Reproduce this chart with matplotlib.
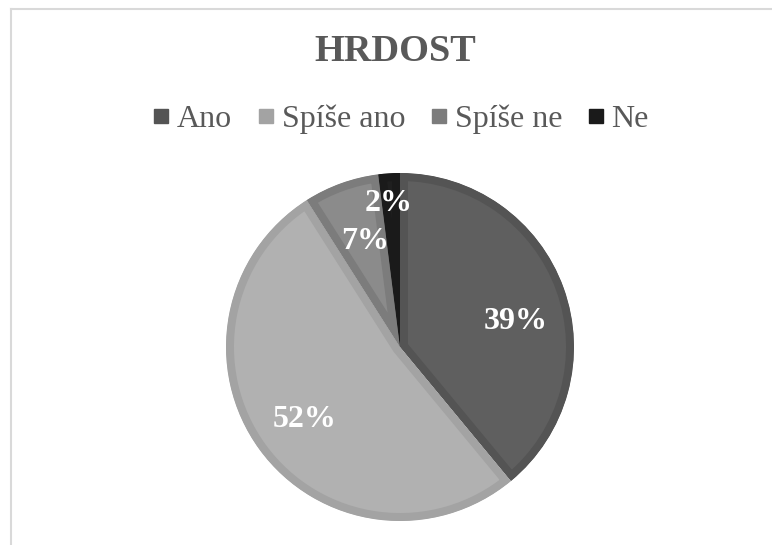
import numpy as np
import matplotlib
matplotlib.use("Agg")
import matplotlib.pyplot as plt
from matplotlib.lines import Line2D
from matplotlib.patches import Wedge

plt.rcParams['font.family'] = ['Liberation Serif', 'DejaVu Serif']

title = "HRDOST"
categories = ["Ano", "Spíše ano", "Spíše ne", "Ne"]
values = [39, 52, 7, 2]

fill_colors = ["#5f5f5f", "#b1b1b1", "#8b8b8b", "#1f1f1f"]
edge_colors = ["#545454", "#a3a3a3", "#7c7c7c", "#1a1a1a"]
# label placement: fraction of radius and small angle tweak (deg)
label_dist = [0.68, 0.69, 0.64, 0.83]
label_shift = [-7.5, 1.3, -1.4, 0.8]

W, H = 772, 545
fig = plt.figure(figsize=(W / 100, H / 100), dpi=100)

# pie axes: centre at (400, 347) px, radius ~174 px
r_px = 174
cx, cy = 400, H - 347
ax = fig.add_axes([(cx - r_px) / W, (cy - r_px) / H, 2 * r_px / W, 2 * r_px / H])
wedges, _ = ax.pie(values, colors=fill_colors, startangle=90, counterclock=False,
                   radius=1, wedgeprops=dict(linewidth=11.5))
ax.set_xlim(-1, 1)
ax.set_ylim(-1, 1)
ax.set_aspect('equal')
ax.axis('off')
for w, ec in zip(wedges, edge_colors):
    w.set_edgecolor(ec)
    # clip the stroke to the wedge itself -> border only on the inside
    clip = Wedge(w.center, w.r, w.theta1, w.theta2, transform=ax.transData)
    w.set_clip_on(True)
    w.set_clip_path(clip)

for w, v, d, s in zip(wedges, values, label_dist, label_shift):
    ang = np.deg2rad((w.theta1 + w.theta2) / 2 + s)
    ax.text(d * np.cos(ang), d * np.sin(ang), f"{v}%", ha='center', va='center',
            color='white', fontsize=23, fontweight='bold')

fig.text(395 / W, 1 - 51 / H, title, ha='center', va='center', fontsize=27.6,
         fontweight='bold', color='#595959')

handles = [Line2D([], [], marker='s', linestyle='none', markersize=10,
                  markerfacecolor=c, markeredgecolor=c) for c in edge_colors]
leg = fig.legend(handles, categories, loc='center', bbox_to_anchor=(401 / W, 1 - 119 / H),
                 ncol=4, frameon=False, fontsize=23, handlelength=0.5, handletextpad=0.25,
                 columnspacing=0.8, borderpad=0)
for t in leg.get_texts():
    t.set_color('#595959')

# chart area frame (only top and left visible in the crop)
fig.add_artist(Line2D([11 / W, 1], [1 - 9 / H, 1 - 9 / H], color='#d9d9d9', lw=1.5))
fig.add_artist(Line2D([11 / W, 11 / W], [0, 1 - 9 / H], color='#d9d9d9', lw=1.5))

fig.savefig("out.png", dpi=100)
